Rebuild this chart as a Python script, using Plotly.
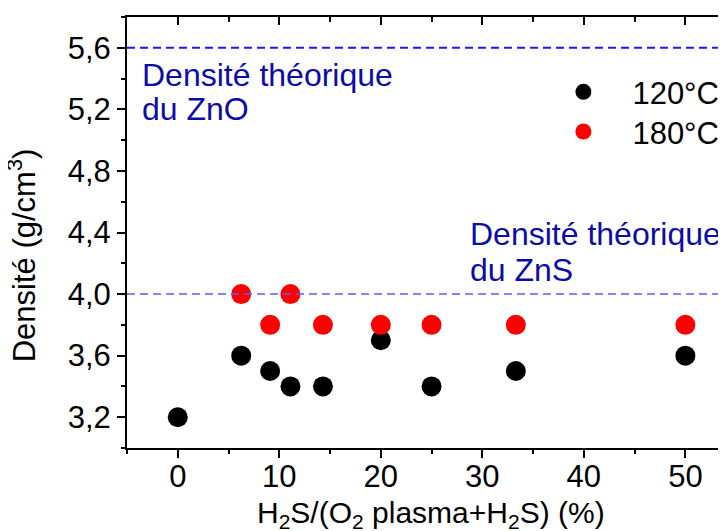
import plotly.graph_objects as go

# data
x_120 = [0, 6.25, 9.1, 11.1, 14.3, 20, 25, 33.3, 50]
y_120 = [3.2, 3.6, 3.5, 3.4, 3.4, 3.7, 3.4, 3.5, 3.6]
x_180 = [6.25, 9.1, 11.1, 14.3, 20, 25, 33.3, 50]
y_180 = [4.0, 3.8, 4.0, 3.8, 3.8, 3.8, 3.8, 3.8]
dens_zno = 5.6
dens_zns = 4.0

FONT = 'Arial, Liberation Sans, sans-serif'
x_range = [-5, 54.1]
y_range = [3.0, 5.8]

fig = go.Figure()

fig.add_trace(go.Scatter(x = x_120, y = y_120, mode = 'markers', name = '120°C',
                         legend = 'legend',
                         marker = dict(color = 'black', size = 20)))
fig.add_trace(go.Scatter(x = x_180, y = y_180, mode = 'markers', name = '180°C',
                         legend = 'legend2',
                         marker = dict(color = '#ff0000', size = 20)))
# dummy trace so the top / right axes get drawn
fig.add_trace(go.Scatter(x = [None], y = [None], xaxis = 'x2', yaxis = 'y2',
                         showlegend = False, hoverinfo = 'skip'))

# reference densities
fig.add_shape(type = 'line', xref = 'paper', yref = 'y', x0 = 0, x1 = 1,
              y0 = dens_zno, y1 = dens_zno,
              line = dict(color = '#1a1aff', width = 2, dash = '8px,5px'))
fig.add_shape(type = 'line', xref = 'paper', yref = 'y', x0 = 0, x1 = 1,
              y0 = dens_zns, y1 = dens_zns,
              line = dict(color = '#5c5cff', width = 1.5, dash = '8px,5px'))

txt_color = '#0c0ca8'
labels = [(-3.75, 5.424, 'Densité théorique'),
          (-3.75, 5.205, 'du ZnO'),
          (28.6, 4.393, 'Densité théorique'),
          (28.6, 4.155, 'du ZnS')]
for lx, ly, lt in labels:
    fig.add_annotation(x = lx, y = ly, text = lt, showarrow = False,
                       xanchor = 'left', yanchor = 'middle',
                       font = dict(family = FONT, size = 32, color = txt_color))

# axis titles as annotations (paper coords) for exact placement
fig.add_annotation(xref = 'paper', yref = 'paper', x = 0.507, y = -0.155,
                   text = 'H<sub>2</sub>S/(O<sub>2</sub> plasma+H<sub>2</sub>S) (%)',
                   showarrow = False, xanchor = 'center', yanchor = 'middle',
                   font = dict(family = FONT, size = 30, color = 'black'))
fig.add_annotation(xref = 'paper', yref = 'paper', x = -0.175, y = 0.447,
                   text = 'Densité (g/cm<sup>3</sup>)', textangle = -90,
                   showarrow = False, xanchor = 'center', yanchor = 'middle',
                   font = dict(family = FONT, size = 31, color = 'black'))

tick_font = dict(family = FONT, size = 31, color = 'black')
legend_font = dict(family = FONT, size = 31, color = 'black')

fig.update_layout(
    width = 726, height = 531,
    # page body has an 8px margin, so the plot area is shifted to compensate
    margin = dict(l = 119, r = 7, t = 9, b = 91, autoexpand = False),
    paper_bgcolor = 'white', plot_bgcolor = 'white',
    separators = ', ',
    showlegend = True,
    legend = dict(x = 0.679, y = 0.8255, xanchor = 'left', yanchor = 'middle',
                  bgcolor = 'rgba(0,0,0,0)', itemwidth = 88, font = legend_font),
    legend2 = dict(x = 0.679, y = 0.7336, xanchor = 'left', yanchor = 'middle',
                   bgcolor = 'rgba(0,0,0,0)', itemwidth = 88, font = legend_font),
    xaxis = dict(
        range = x_range, tick0 = 0, dtick = 10, showgrid = False, zeroline = False,
        automargin = False,
        showline = True, linecolor = 'black', linewidth = 2,
        ticks = 'outside', ticklen = 8, tickwidth = 2, tickcolor = 'black',
        ticklabelstandoff = -8,
        minor = dict(dtick = 5, ticks = 'outside', ticklen = 4, tickwidth = 2,
                     tickcolor = 'black', showgrid = False),
        tickfont = tick_font),
    yaxis = dict(
        range = y_range, tick0 = 3.2, dtick = 0.4, tickformat = '.1f',
        showgrid = False, zeroline = False, automargin = False,
        showline = True, linecolor = 'black', linewidth = 2,
        ticks = 'outside', ticklen = 8, tickwidth = 2, tickcolor = 'black',
        minor = dict(tick0 = 3.0, dtick = 0.2, ticks = 'outside', ticklen = 4,
                     tickwidth = 2, tickcolor = 'black', showgrid = False),
        tickfont = tick_font),
    xaxis2 = dict(
        overlaying = 'x', side = 'top', anchor = 'y2', range = x_range,
        tick0 = 0, dtick = 10, showgrid = False, zeroline = False,
        automargin = False,
        showline = True, linecolor = 'black', linewidth = 2,
        ticks = 'inside', ticklen = 8, tickwidth = 2, tickcolor = 'black',
        minor = dict(dtick = 5, ticks = 'inside', ticklen = 5, tickwidth = 2,
                     tickcolor = 'black', showgrid = False),
        showticklabels = False),
    yaxis2 = dict(
        overlaying = 'y', side = 'right', anchor = 'x2', range = y_range,
        tick0 = 3.2, dtick = 0.4, showgrid = False, zeroline = False,
        automargin = False, showline = False,
        ticks = 'inside', ticklen = 8, tickwidth = 2, tickcolor = 'black',
        minor = dict(tick0 = 3.0, dtick = 0.2, ticks = 'inside', ticklen = 4,
                     tickwidth = 2, tickcolor = 'black', showgrid = False),
        showticklabels = False),
)

fig.write_html("out.html")
